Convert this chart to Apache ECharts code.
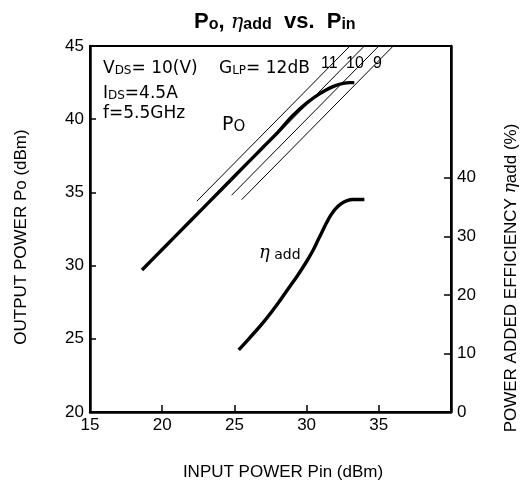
<!DOCTYPE html>
<html>
<head>
<meta charset="utf-8">
<script src="https://cdn.jsdelivr.net/npm/echarts@6/dist/echarts.min.js"></script>
<style>
html,body{margin:0;padding:0;background:#fff;}
#chart{width:520px;height:487px;}
</style>
</head>
<body>
<div id="chart"></div>
<script>
// ---- data ----
const xTicks = [15, 20, 25, 30, 35];
const leftTicks = [20, 25, 30, 35, 40, 45];
const rightTicks = [0, 10, 20, 30, 40];

// Output power Po (dBm) vs input power Pin (dBm)
const poPin = [18.6, 20, 22, 24, 26, 27, 28, 29, 30, 31, 32, 33, 33.3];
const poOut = [29.7, 31.1, 33.1, 35.1, 37.1, 38.1, 39.1, 40.2, 41.1, 41.8, 42.3, 42.5, 42.5];

// Power added efficiency (%) vs Pin (dBm)
const etaPin = [25.3, 26.0, 27.0, 28.0, 28.8, 29.4, 30.0, 30.4, 30.8, 31.1, 31.4, 31.7, 32.0, 32.4, 32.8, 33.2, 33.6, 34.0];
const etaVal = [10.6, 12.5, 15.3, 18.5, 21.3, 23.4, 25.7, 27.4, 29.4, 30.9, 32.4, 33.7, 34.7, 35.6, 36.1, 36.3, 36.3, 36.3];

// Constant linear-gain lines GLP (dB): Pin start / Pin end
const glpGains = [12, 11, 10, 9];
const glpPinStart = [22.4, 24.0, 24.8, 25.5];
const glpPinEnd = [33, 34, 35, 36];

// ---- chart ----
const FONT = '"Liberation Sans", Arial, sans-serif';
const WFONT = '"DejaVu Sans", sans-serif';
const GREEK = '"DejaVu Serif", serif';
const chart = echarts.init(document.getElementById('chart'));

const poData = poPin.map((x, i) => [x, poOut[i]]);
const etaData = etaPin.map((x, i) => [x, etaVal[i]]);

const glpSeries = glpGains.map((g, i) => ({
  type: 'line',
  yAxisIndex: 0,
  data: [[glpPinStart[i], glpPinStart[i] + g], [glpPinEnd[i], glpPinEnd[i] + g]],
  symbol: 'none',
  lineStyle: { color: '#000', width: 1 },
  silent: true,
  z: 2
}));

const subRich = (n, s) => ({
  n: { fontSize: n, fontFamily: WFONT, lineHeight: n + 5, verticalAlign: 'bottom' },
  s: { fontSize: s, fontFamily: WFONT, lineHeight: s + 3, verticalAlign: 'bottom' }
});

const option = {
  backgroundColor: '#fff',
  animation: false,
  grid: { left: 90, right: 69, top: 46, bottom: 75, show: true, borderColor: '#000', borderWidth: 2, backgroundColor: 'transparent' },
  xAxis: {
    type: 'value', min: 15, max: 40, interval: 5,
    axisLine: { show: true, onZero: false, lineStyle: { color: '#000', width: 2.5 } },
    axisTick: { show: true, inside: true, length: 7, lineStyle: { color: '#000', width: 1.5 } },
    axisLabel: { color: '#000', fontSize: 17, fontFamily: FONT, margin: 5,
      customValues: xTicks, formatter: v => String(v) },
    splitLine: { show: false }
  },
  yAxis: [
    {
      type: 'value', min: 20, max: 45, interval: 5, position: 'left',
      axisLine: { show: true, onZero: false, lineStyle: { color: '#000', width: 2.5 } },
      axisTick: { show: true, inside: true, length: 6, lineStyle: { color: '#000', width: 1.5 } },
      axisLabel: { color: '#000', fontSize: 17, fontFamily: FONT, margin: 6,
        customValues: leftTicks, formatter: v => String(v) },
      splitLine: { show: false }
    },
    {
      type: 'value', min: 0, max: 62.5, position: 'right',
      axisLine: { show: true, onZero: false, lineStyle: { color: '#000', width: 2.5 } },
      axisTick: { show: true, inside: true, length: 7, customValues: rightTicks, lineStyle: { color: '#000', width: 1.5 } },
      axisLabel: { color: '#000', fontSize: 17, fontFamily: FONT, margin: 6,
        customValues: rightTicks, formatter: v => String(v) },
      splitLine: { show: false }
    }
  ],
  series: [
    ...glpSeries,
    {
      type: 'line', yAxisIndex: 0, data: poData, smooth: 0.4, symbol: 'none',
      lineStyle: { color: '#000', width: 3.4 }, z: 3
    },
    {
      type: 'line', yAxisIndex: 1, data: etaData, smooth: 0.4, symbol: 'none',
      lineStyle: { color: '#000', width: 3.4 }, z: 3
    }
  ],
  graphic: [
    // title
    {
      type: 'text', x: 194, y: 20, z: 10,
      style: {
        text: '{b|P}{bs|o}{b|, }{e|η}{bs|add}{b|  vs.  }{b|P}{bs|in}',
        fill: '#000', verticalAlign: 'middle',
        rich: {
          b: { fontSize: 22, fontWeight: 'bold', fontFamily: FONT, lineHeight: 26, verticalAlign: 'bottom' },
          bs: { fontSize: 16, fontWeight: 'bold', fontFamily: FONT, lineHeight: 19, verticalAlign: 'bottom' },
          e: { fontSize: 21, fontStyle: 'italic', fontFamily: GREEK, lineHeight: 26, verticalAlign: 'bottom' }
        }
      }
    },
    // condition text
    {
      type: 'text', x: 103, y: 66, z: 10,
      style: { text: '{n|V}{s|DS}{n|= 10(V)}', fill: '#000', verticalAlign: 'middle', rich: subRich(17, 12) }
    },
    {
      type: 'text', x: 219, y: 66, z: 10,
      style: { text: '{n|G}{s|LP}{n|= 12dB}', fill: '#000', verticalAlign: 'middle', rich: subRich(17, 12) }
    },
    { type: 'text', x: 321, y: 64, z: 10, style: { text: '11', fill: '#000', fontSize: 16, fontFamily: FONT, verticalAlign: 'middle' } },
    { type: 'text', x: 346, y: 64, z: 10, style: { text: '10', fill: '#000', fontSize: 16, fontFamily: FONT, verticalAlign: 'middle' } },
    { type: 'text', x: 373, y: 64, z: 10, style: { text: '9', fill: '#000', fontSize: 16, fontFamily: FONT, verticalAlign: 'middle' } },
    {
      type: 'text', x: 103, y: 91, z: 10,
      style: { text: '{n|I}{s|DS}{n|=4.5A}', fill: '#000', verticalAlign: 'middle', rich: subRich(17, 12) }
    },
    {
      type: 'text', x: 103, y: 114, z: 10,
      style: { text: 'f=5.5GHz', fill: '#000', fontSize: 17, fontFamily: WFONT, verticalAlign: 'middle' }
    },
    // Po label
    {
      type: 'text', x: 222, y: 123, z: 10,
      style: { text: '{n|P}{s|O}', fill: '#000', verticalAlign: 'middle', rich: subRich(19, 15) }
    },
    // eta label
    {
      type: 'text', x: 259, y: 252, z: 10,
      style: {
        text: '{e|η}{s| add}', fill: '#000', verticalAlign: 'middle',
        rich: {
          e: { fontSize: 18, fontStyle: 'italic', fontFamily: GREEK, lineHeight: 21, verticalAlign: 'bottom' },
          s: { fontSize: 14, fontFamily: WFONT, lineHeight: 17, verticalAlign: 'bottom' }
        }
      }
    },
    // axis names
    {
      type: 'text', x: 21, y: 237, rotation: Math.PI / 2, z: 10,
      style: { text: 'OUTPUT POWER Po (dBm)', fill: '#000', fontSize: 17, fontFamily: FONT, align: 'center', verticalAlign: 'middle' }
    },
    {
      type: 'text', x: 511, y: 278, rotation: Math.PI / 2, z: 10,
      style: {
        text: '{n|POWER ADDED EFFICIENCY }{e|η}{n|add (%)}', fill: '#000', align: 'center', verticalAlign: 'middle',
        rich: {
          n: { fontSize: 17, fontFamily: FONT },
          e: { fontSize: 17, fontStyle: 'italic', fontFamily: GREEK }
        }
      }
    },
    {
      type: 'text', x: 283, y: 472, z: 10,
      style: { text: 'INPUT POWER Pin (dBm)', fill: '#000', fontSize: 17, fontFamily: FONT, align: 'center', verticalAlign: 'middle' }
    }
  ]
};
chart.setOption(option);
</script>
</body>
</html>
